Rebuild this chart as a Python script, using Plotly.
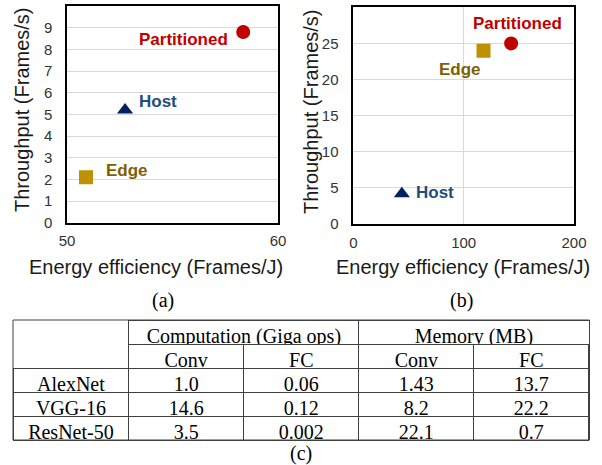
import plotly.graph_objects as go

# chart (a)
labels = ["Partitioned", "Host", "Edge"]
eff_a = [58.35, 52.75, 50.9]
thr_a = [8.8, 5.2, 2.1]
# chart (b)
eff_b = [143, 44, 118]
thr_b = [25, 4.2, 24]

marker_colors = ["#C00000", "#002060", "#BF9000"]
marker_symbols = ["circle", "triangle-up", "square"]
text_colors = ["#C00000", "#1F4E79", "#7F6000"]

# table (c)
groups = ["Computation (Giga ops)", "Memory (MB)"]
sub_cols = ["Conv", "FC", "Conv", "FC"]
models = ["AlexNet", "VGG-16", "ResNet-50"]
comp_conv = ["1.0", "14.6", "3.5"]
comp_fc = ["0.06", "0.12", "0.002"]
mem_conv = ["1.43", "8.2", "22.1"]
mem_fc = ["13.7", "22.2", "0.7"]

W, H = 602, 465


def px(x):
    return x / W


def py(y):
    return 1 - y / H


fig = go.Figure()

for i in range(3):
    fig.add_trace(go.Scatter(
        x=[eff_a[i]], y=[thr_a[i]], mode="markers",
        marker=dict(symbol=marker_symbols[i], color=marker_colors[i], size=14),
        xaxis="x", yaxis="y", showlegend=False,
    ))
    fig.add_trace(go.Scatter(
        x=[eff_b[i]], y=[thr_b[i]], mode="markers",
        marker=dict(symbol=marker_symbols[i], color=marker_colors[i], size=14),
        xaxis="x2", yaxis="y2", showlegend=False,
    ))

# point labels: (xanchor, xshift, yshift)
place_a = [("right", -13, -7), ("left", 12, 9), ("left", 18, 7)]
place_b = [("center", 6, 20), ("left", 12, 1), ("right", -1, -19)]
for i in range(3):
    for xs, ys, place, ax in [(eff_a, thr_a, place_a, ""), (eff_b, thr_b, place_b, "2")]:
        anchor, dx, dy = place[i]
        fig.add_annotation(
            x=xs[i], y=ys[i], xref="x" + ax, yref="y" + ax,
            text="<b>" + labels[i] + "</b>", showarrow=False,
            xanchor=anchor, xshift=dx, yshift=dy,
            font=dict(family="Arial, Liberation Sans", size=17, color=text_colors[i]),
        )

axis_font = dict(family="Arial, Liberation Sans", size=15, color="#333333")
common = dict(showline=True, mirror=True, linecolor="black", linewidth=1.5,
              zeroline=False, ticks="", tickfont=axis_font, gridcolor="#D9D9D9",
              automargin=False)

fig.update_layout(
    xaxis=dict(domain=[px(67), px(278)], range=[50, 60], dtick=10, showgrid=False,
               anchor="y", ticklabelstandoff=4, **common),
    yaxis=dict(domain=[py(222.7), py(6)], range=[0, 10], dtick=1, showgrid=True,
               anchor="x", ticklabelstandoff=10, **common),
    xaxis2=dict(domain=[px(353.3), px(574)], range=[0, 200], dtick=100, showgrid=True,
                anchor="y2", ticklabelstandoff=4, **common),
    yaxis2=dict(domain=[py(224), py(7.3)], range=[0, 30], dtick=5, showgrid=True,
                anchor="x2", ticklabelstandoff=10, **common),
)

title_font = dict(family="Arial, Liberation Sans", size=20, color="#1a1a1a")
serif = dict(family="Times New Roman, Liberation Serif", size=20, color="black")
for x, y, txt, ang, f in [
    (156, 267, "Energy efficiency (Frames/J)", 0, title_font),
    (463, 267, "Energy efficiency (Frames/J)", 0, title_font),
    (22, 110, "Throughput (Frames/s)", -90, title_font),
    (311, 112, "Throughput (Frames/s)", -90, title_font),
    (162.5, 300, "(a)", 0, serif),
    (461, 300, "(b)", 0, serif),
    (301, 453, "(c)", 0, serif),
]:
    fig.add_annotation(x=px(x), y=py(y), xref="paper", yref="paper", text=txt,
                       showarrow=False, textangle=ang, font=f,
                       xanchor="center", yanchor="middle")

line_col = "#404040"
fig.add_trace(go.Table(
    domain=dict(x=[px(13), px(589.5)], y=[py(345), py(320)]),
    columnwidth=[116, 230.5, 230.5],
    header=dict(values=[""] + groups, height=24, align="center",
                line=dict(color=line_col, width=[0, 1, 1]),
                fill=dict(color="white"), font=serif),
    cells=dict(values=[[], [], []]),
))
fig.add_trace(go.Table(
    domain=dict(x=[px(13), px(589.5)], y=[py(444), py(344)]),
    columnwidth=[116, 115, 115.5, 115, 115.5],
    header=dict(values=[""] + sub_cols, height=24, align="center",
                line=dict(color=line_col, width=[0, 1, 1, 1, 1]),
                fill=dict(color="white"), font=serif),
    cells=dict(values=[models, comp_conv, comp_fc, mem_conv, mem_fc], height=24,
               align="center", line=dict(color=line_col, width=1),
               fill=dict(color="white"), font=serif),
))
fig.add_shape(type="rect", xref="paper", yref="paper", layer="above",
              x0=px(13), x1=px(589.5), y0=py(440), y1=py(320),
              line=dict(color=line_col, width=1))

fig.update_layout(width=W, height=H, margin=dict(l=0, r=0, t=0, b=0),
                  paper_bgcolor="white", plot_bgcolor="white")

# the page's default body margin would push the figure 8px right and down
fig.write_html("out.html", config={"displayModeBar": False},
               post_script="document.body.style.margin='0';")
